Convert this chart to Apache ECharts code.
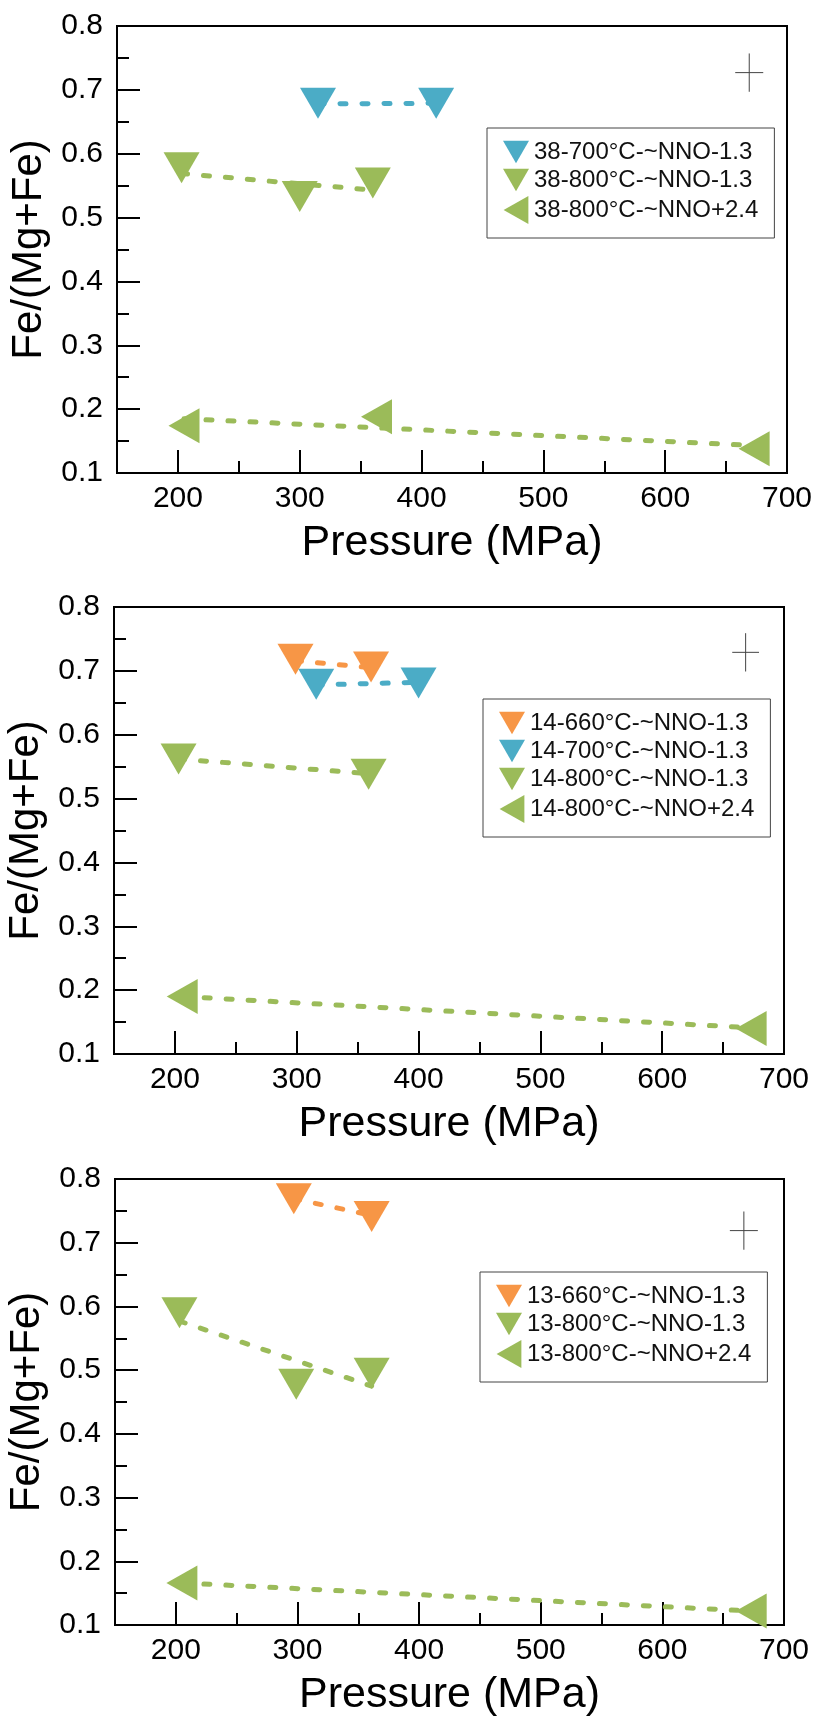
<!DOCTYPE html>
<html>
<head>
<meta charset="utf-8">
<style>
  html, body { margin: 0; padding: 0; background: #fff; }
  #chart { width: 814px; height: 1718px; }
</style>
<script src="https://cdn.jsdelivr.net/npm/echarts@6/dist/echarts.min.js"></script>
</head>
<body>
<div id="chart"></div>
<script>
// ---------- axis ticks ----------
const xMin = 150, xMax = 700;
const yMin = 0.1, yMax = 0.8, yStep = 0.1;
const xMajorTicks = [200, 300, 400, 500, 600, 700];
const xMinorTicks = [250, 350, 450, 550, 650];
const xTitle = 'Pressure (MPa)';
const yTitle = 'Fe/(Mg+Fe)';

// ---------- panel 1 (sample 38) ----------
const p1Names = ['38-700°C-~NNO-1.3', '38-800°C-~NNO-1.3', '38-800°C-~NNO+2.4'];
const p1_700m = [[315, 0.679], [412, 0.679]];
const p1_800m = [[203, 0.578], [300, 0.533], [360, 0.554]];
const p1_800p = [[205, 0.174], [363, 0.188], [673, 0.138]];
const p1_fit700m = [[315, 0.678], [412, 0.679]];
const p1_fit800m = [[203, 0.569], [360, 0.543]];
const p1_fit800p = [[205, 0.185], [673, 0.143]];
const p1_err = [[669, 0.727, 11.5, 0.030]];

// ---------- panel 2 (sample 14) ----------
const p2Names = ['14-660°C-~NNO-1.3', '14-700°C-~NNO-1.3', '14-800°C-~NNO-1.3', '14-800°C-~NNO+2.4'];
const p2_660m = [[299, 0.718], [361, 0.706]];
const p2_700m = [[316, 0.679], [400, 0.681]];
const p2_800m = [[203, 0.562], [359, 0.538]];
const p2_800p = [[206, 0.190], [673, 0.140]];
const p2_fit660m = [[299, 0.716], [361, 0.705]];
const p2_fit700m = [[316, 0.678], [400, 0.682]];
const p2_fit800m = [[203, 0.562], [359, 0.539]];
const p2_fit800p = [[206, 0.190], [673, 0.141]];
const p2_err = [[668.5, 0.729, 11, 0.030]];

// ---------- panel 3 (sample 13) ----------
const p3Names = ['13-660°C-~NNO-1.3', '13-800°C-~NNO-1.3', '13-800°C-~NNO+2.4'];
const p3_660m = [[297, 0.769], [361, 0.741]];
const p3_800m = [[203, 0.590], [299, 0.478], [361, 0.495]];
const p3_800p = [[205, 0.166], [673, 0.122]];
const p3_fit660m = [[297, 0.769], [361, 0.743]];
const p3_fit800m = [[203, 0.577], [361, 0.475]];
const p3_fit800p = [[205, 0.166], [673, 0.122]];
const p3_err = [[667, 0.719, 11.5, 0.030]];

// ---------- styles ----------
const BLUE = '#4BACC6', GREEN = '#9BBB59', ORANGE = '#F79646';
const FONT = 'Liberation Sans, Arial, sans-serif';
const DOWN = 'path://M0,0 L36,0 L18,31 Z';
const LEFT = 'path://M31,0 L31,35 L0,17.5 Z';

const gridsPos = [
  { left: 117, top: 26, width: 670, height: 447 },
  { left: 114, top: 607, width: 670, height: 447 },
  { left: 115, top: 1179, width: 669, height: 446 }
];
const legendPos = [
  { left: 487, top: 128 },
  { left: 483, top: 699 },
  { left: 480, top: 1272 }
];

const grid = gridsPos.map(p => Object.assign({
  show: true, borderColor: '#000', borderWidth: 2,
  backgroundColor: 'transparent', containLabel: false, outerBoundsMode: 'none'
}, p));

const xAxis = [];
const yAxis = [];
for (let g = 0; g < 3; g++) {
  xAxis.push({
    type: 'value', gridIndex: g, min: xMin, max: xMax, position: 'bottom',
    name: xTitle, nameLocation: 'middle', nameGap: 49,
    nameTextStyle: { fontSize: 43, color: '#000', fontFamily: FONT },
    axisLine: { show: true, onZero: false, lineStyle: { color: '#000', width: 2 } },
    axisTick: { show: true, inside: true, length: 23, customValues: xMajorTicks,
      lineStyle: { color: '#000', width: 2 } },
    axisLabel: { show: true, customValues: xMajorTicks, margin: 11,
      fontSize: 30, color: '#000', fontFamily: FONT },
    splitLine: { show: false }
  });
}
for (let g = 0; g < 3; g++) {
  xAxis.push({
    type: 'value', gridIndex: g, min: xMin, max: xMax, position: 'bottom',
    axisLine: { show: false },
    axisTick: { show: true, inside: true, length: 12, customValues: xMinorTicks,
      lineStyle: { color: '#000', width: 2 } },
    axisLabel: { show: false },
    splitLine: { show: false }
  });
}
for (let g = 0; g < 3; g++) {
  yAxis.push({
    type: 'value', gridIndex: g, min: yMin, max: yMax, interval: yStep, position: 'left',
    name: yTitle, nameLocation: 'middle', nameGap: 59, nameRotate: 90,
    nameTextStyle: { fontSize: 42, color: '#000', fontFamily: FONT },
    axisLine: { show: true, onZero: false, lineStyle: { color: '#000', width: 2 } },
    axisTick: { show: true, inside: true, length: 23, lineStyle: { color: '#000', width: 2 } },
    minorTick: { show: true, splitNumber: 2, length: 12, lineStyle: { color: '#000', width: 2 } },
    axisLabel: { show: true, margin: 14, fontSize: 30, color: '#000', fontFamily: FONT,
      formatter: v => Number(v).toFixed(1) },
    splitLine: { show: false }
  });
}

function scatter(name, data, color, shape, g) {
  const size = shape === DOWN ? [36, 31] : [31, 35];
  return {
    type: 'scatter', name, data, xAxisIndex: g, yAxisIndex: g,
    symbol: shape, symbolSize: size, z: 3,
    itemStyle: { color, opacity: 1 }, animation: false
  };
}
function fit(data, color, g) {
  return {
    type: 'line', name: 'fit', data, xAxisIndex: g, yAxisIndex: g,
    symbol: 'none', showSymbol: false, z: 2, silent: true, animation: false,
    lineStyle: { color, width: 5, type: [6, 16], cap: 'round' }
  };
}
function errBar(data, g) {
  return {
    type: 'custom', name: 'err', data, xAxisIndex: g, yAxisIndex: g, silent: true,
    animation: false, clip: false, z: 4,
    renderItem: function (params, api) {
      const x = api.value(0), y = api.value(1), ex = api.value(2), ey = api.value(3);
      const l = api.coord([x - ex, y]), r = api.coord([x + ex, y]);
      const t = api.coord([x, y + ey]), b = api.coord([x, y - ey]);
      const st = { stroke: '#444', lineWidth: 1, fill: null };
      return { type: 'group', children: [
        { type: 'line', shape: { x1: l[0], y1: l[1], x2: r[0], y2: r[1] }, style: st },
        { type: 'line', shape: { x1: t[0], y1: t[1], x2: b[0], y2: b[1] }, style: st }
      ]};
    }
  };
}

const series = [
  // panel 1
  fit(p1_fit700m, BLUE, 0), fit(p1_fit800m, GREEN, 0), fit(p1_fit800p, GREEN, 0),
  scatter(p1Names[0], p1_700m, BLUE, DOWN, 0),
  scatter(p1Names[1], p1_800m, GREEN, DOWN, 0),
  scatter(p1Names[2], p1_800p, GREEN, LEFT, 0),
  errBar(p1_err, 0),
  // panel 2
  fit(p2_fit660m, ORANGE, 1), fit(p2_fit700m, BLUE, 1), fit(p2_fit800m, GREEN, 1), fit(p2_fit800p, GREEN, 1),
  scatter(p2Names[0], p2_660m, ORANGE, DOWN, 1),
  scatter(p2Names[1], p2_700m, BLUE, DOWN, 1),
  scatter(p2Names[2], p2_800m, GREEN, DOWN, 1),
  scatter(p2Names[3], p2_800p, GREEN, LEFT, 1),
  errBar(p2_err, 1),
  // panel 3
  fit(p3_fit660m, ORANGE, 2), fit(p3_fit800m, GREEN, 2), fit(p3_fit800p, GREEN, 2),
  scatter(p3Names[0], p3_660m, ORANGE, DOWN, 2),
  scatter(p3Names[1], p3_800m, GREEN, DOWN, 2),
  scatter(p3Names[2], p3_800p, GREEN, LEFT, 2),
  errBar(p3_err, 2)
];

const iconFor = n => (n.indexOf('+2.4') >= 0 ? LEFT : DOWN);
const legend = [p1Names, p2Names, p3Names].map((names, i) => Object.assign({
  orient: 'vertical', itemWidth: 26, itemHeight: 28, itemGap: 4,
  padding: [12, 16, 14, 16], borderColor: '#444', borderWidth: 1, borderRadius: 0,
  backgroundColor: '#fff',
  textStyle: { fontSize: 24, color: '#111', fontFamily: FONT },
  selectedMode: false,
  data: names.map(n => ({ name: n, icon: iconFor(n) }))
}, legendPos[i]));

const chart = echarts.init(document.getElementById('chart'), null, { renderer: 'canvas' });
chart.setOption({
  backgroundColor: '#fff',
  animation: false,
  grid, xAxis, yAxis, legend, series
});
</script>
</body>
</html>
